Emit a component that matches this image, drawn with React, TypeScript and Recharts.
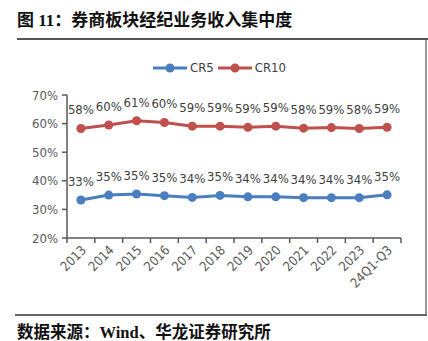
import { LineChart, Line, XAxis, YAxis, Legend, LabelList } from 'recharts';

// 券商板块经纪业务收入集中度 (%)
const years = ['2013', '2014', '2015', '2016', '2017', '2018', '2019', '2020', '2021', '2022', '2023', '24Q1-Q3'];
const cr5 = [33.3, 35.0, 35.4, 34.8, 34.2, 34.9, 34.4, 34.4, 34.1, 34.1, 34.1, 35.1];
const cr10 = [58.3, 59.5, 61.0, 60.4, 59.1, 59.1, 58.7, 59.1, 58.4, 58.6, 58.3, 58.7];
const yTicks = [20, 30, 40, 50, 60, 70];

const data = years.map((y, i) => ({ year: y, CR5: cr5[i], CR10: cr10[i] }));

const BLUE = '#4a7ebf';
const RED = '#c0504d';
const AXIS = '#595959';
const FONT = '"Liberation Sans Narrow", "DejaVu Sans Condensed", "Liberation Sans", Arial, sans-serif';
const CJK = '"Liberation Serif", "Noto Sans CJK SC", serif';

const PLOT_LEFT = 67;
const PLOT_RIGHT = 401;
const STEP = (PLOT_RIGHT - PLOT_LEFT) / years.length;

const XTick = (props: any) => {
  const { x, y, payload, index } = props;
  return (
    <g>
      <line x1={x - STEP / 2} y1={y} x2={x - STEP / 2} y2={y + 5} stroke={AXIS} strokeWidth={1.5} />
      {index === years.length - 1 && (
        <line x1={x + STEP / 2} y1={y} x2={x + STEP / 2} y2={y + 5} stroke={AXIS} strokeWidth={1.5} />
      )}
      <text
        transform={`translate(${x + 6},${y + 13}) rotate(-45)`}
        textAnchor="end"
        fontSize={13}
        fontFamily={FONT}
        fill={AXIS}
      >
        {payload.value}
      </text>
    </g>
  );
};

const LegendContent = () => (
  <div style={{ display: 'flex', alignItems: 'center', fontFamily: FONT, fontSize: 13, color: '#404040' }}>
    {[
      { name: 'CR5', color: BLUE },
      { name: 'CR10', color: RED },
    ].map((s) => (
      <div key={s.name} style={{ display: 'flex', alignItems: 'center', marginRight: 4 }}>
        <svg width={34} height={12}>
          <line x1={0} y1={6} x2={34} y2={6} stroke={s.color} strokeWidth={3} />
          <circle cx={17} cy={6} r={4.5} fill={s.color} />
        </svg>
        <span style={{ marginLeft: 3 }}>{s.name}</span>
      </div>
    ))}
  </div>
);

const pct = (v: any) => `${Math.round(Number(v))}%`;

export default function App() {
  return (
    <div style={{ position: 'absolute', left: 0, top: 0, width: 428, height: 341, background: '#fff', overflow: 'hidden' }}>
      <div
        style={{
          position: 'absolute',
          left: 17,
          top: 12,
          fontFamily: CJK,
          fontWeight: 'bold',
          fontSize: 17,
          lineHeight: '17px',
          color: '#111',
          whiteSpace: 'nowrap',
        }}
      >
        图 11：券商板块经纪业务收入集中度
      </div>
      <div style={{ position: 'absolute', left: 17, top: 38, width: 411, height: 2, background: '#555' }} />
      <div style={{ position: 'absolute', left: 425, top: 40, width: 2, height: 276, background: '#999' }} />
      <div style={{ position: 'absolute', left: 15, top: 314, width: 412, height: 2, background: '#666' }} />

      <div style={{ position: 'absolute', left: 0, top: 0 }}>
        <LineChart width={428} height={341} data={data} margin={{ top: 95, right: 27, left: 7, bottom: 53 }}>
          <XAxis
            dataKey="year"
            interval={0}
            height={50}
            padding={{ left: STEP / 2, right: STEP / 2 }}
            axisLine={{ stroke: AXIS, strokeWidth: 1.5 }}
            tickLine={false}
            tickSize={0}
            tickMargin={0}
            tick={<XTick />}
          />
          <YAxis
            type="number"
            domain={[20, 70]}
            ticks={yTicks}
            width={60}
            tickFormatter={(v) => `${v}%`}
            axisLine={{ stroke: AXIS, strokeWidth: 1.5 }}
            tickLine={{ stroke: AXIS, strokeWidth: 1.5 }}
            tickSize={5}
            tickMargin={4}
            tick={{ fontSize: 13, fontFamily: FONT, fill: AXIS }}
          />
          <Legend
            layout="vertical"
            align="center"
            verticalAlign="middle"
            content={<LegendContent />}
            wrapperStyle={{ position: 'absolute', left: 153, top: 60, width: 160 }}
          />
          <Line
            dataKey="CR5"
            stroke={BLUE}
            strokeWidth={3}
            dot={{ r: 4.5, fill: BLUE, stroke: BLUE, strokeWidth: 0 }}
            isAnimationActive={false}
          >
            <LabelList dataKey="CR5" position="top" offset={14} formatter={pct} fontSize={13} fontFamily={FONT} fill="#404040" />
          </Line>
          <Line
            dataKey="CR10"
            stroke={RED}
            strokeWidth={3}
            dot={{ r: 4.5, fill: RED, stroke: RED, strokeWidth: 0 }}
            isAnimationActive={false}
          >
            <LabelList dataKey="CR10" position="top" offset={14} formatter={pct} fontSize={13} fontFamily={FONT} fill="#404040" />
          </Line>
        </LineChart>
      </div>

      <div
        style={{
          position: 'absolute',
          left: 17,
          top: 324,
          fontFamily: CJK,
          fontWeight: 'bold',
          fontSize: 16.5,
          lineHeight: '17px',
          color: '#111',
          whiteSpace: 'nowrap',
        }}
      >
        数据来源：Wind、华龙证券研究所
      </div>
    </div>
  );
}
